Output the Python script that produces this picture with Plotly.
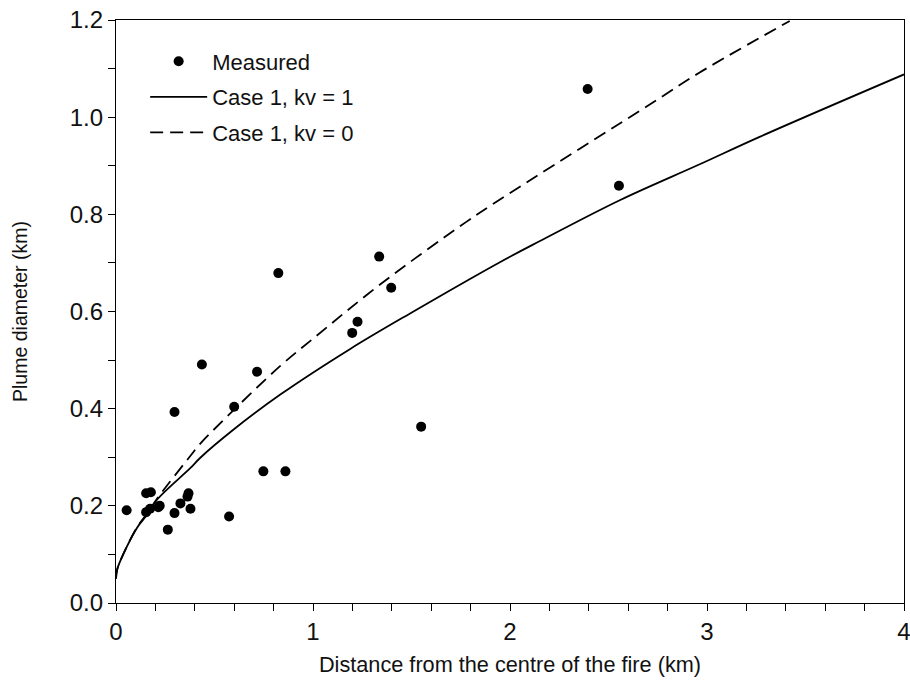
import plotly.graph_objects as go

# Measured plume diameters
measured_x = [0.054, 0.153, 0.173, 0.153, 0.177, 0.215, 0.222, 0.263, 0.297, 0.327,
              0.368, 0.363, 0.378, 0.297, 0.436, 0.574, 0.600, 0.716, 0.748, 0.860,
              0.824, 1.336, 1.199, 1.226, 1.397, 1.549, 2.394, 2.553]
measured_y = [0.191, 0.187, 0.194, 0.226, 0.228, 0.197, 0.200, 0.151, 0.185, 0.205,
              0.226, 0.219, 0.194, 0.393, 0.491, 0.178, 0.404, 0.476, 0.271, 0.271,
              0.679, 0.713, 0.556, 0.579, 0.649, 0.363, 1.058, 0.859]

# Case 1, kv = 1 (solid)
kv1_x = [0.0, 0.006, 0.04, 0.107, 0.158, 0.209, 0.378, 0.428, 0.597, 0.834,
         1.189, 1.51, 1.951, 2.152, 2.557, 2.963, 3.27, 4.0]
kv1_y = [0.05, 0.069, 0.103, 0.155, 0.182, 0.213, 0.278, 0.299, 0.357, 0.429,
         0.523, 0.600, 0.702, 0.745, 0.829, 0.903, 0.960, 1.088]

# Case 1, kv = 0 (dashed)
kv0_x = [0.0, 0.006, 0.04, 0.107, 0.158, 0.209, 0.378, 0.428, 0.597, 0.834,
         1.003, 1.342, 1.78, 1.951, 2.744, 2.963, 3.42]
kv0_y = [0.05, 0.069, 0.103, 0.156, 0.184, 0.215, 0.303, 0.328, 0.397, 0.488,
         0.545, 0.656, 0.785, 0.831, 1.035, 1.092, 1.198]

x_ticks = [0, 1, 2, 3, 4]
y_ticks = [0.0, 0.2, 0.4, 0.6, 0.8, 1.0, 1.2]

FONT = "Liberation Sans, Arial, sans-serif"

fig = go.Figure()
fig.add_trace(go.Scatter(x=measured_x, y=measured_y, mode="markers", name="Measured",
                         legendgroup="a",
                         marker=dict(color="black", size=10)))
fig.add_trace(go.Scatter(x=kv1_x, y=kv1_y, mode="lines", name="Case 1, kv = 1",
                         legendgroup="b",
                         line=dict(color="black", width=1.8, shape="spline", smoothing=1.0)))
fig.add_trace(go.Scatter(x=kv0_x, y=kv0_y, mode="lines", name="Case 1, kv = 0",
                         legendgroup="c",
                         line=dict(color="black", width=1.8, dash="13px,7px",
                                   shape="spline", smoothing=1.0)))

axis_common = dict(showline=True, linecolor="black", linewidth=1.2, mirror=True,
                   ticks="outside", ticklen=7, tickcolor="black", tickwidth=1.2,
                   showgrid=False, zeroline=False, ticklabeloverflow="allow",
                   automargin=False,
                   tickfont=dict(family=FONT, size=24, color="#111"))

fig.update_xaxes(range=[0, 4], tickvals=x_ticks, ticktext=[str(v) for v in x_ticks],
                 minor=dict(ticks="outside", dtick=0.2, ticklen=7, tickcolor="black", tickwidth=1.2),
                 title=dict(text="Distance from the centre of the fire (km)",
                            font=dict(family=FONT, size=21.7, color="#111"), standoff=12),
                 **axis_common)
fig.update_yaxes(range=[0, 1.2], tickvals=y_ticks, ticktext=[f"{v:.1f}" for v in y_ticks],
                 minor=dict(ticks="outside", dtick=0.1, ticklen=7, tickcolor="black", tickwidth=1.2),
                 title=dict(text="Plume diameter (km)",
                            font=dict(family=FONT, size=19.5, color="#111"), standoff=36),
                 **axis_common)

fig.update_layout(
    width=910, height=689,
    margin=dict(l=115.5, r=5.5, t=20, b=85.5),
    paper_bgcolor="white", plot_bgcolor="white",
    showlegend=True,
    legend=dict(x=0.037, y=0.965, xanchor="left", yanchor="top",
                font=dict(family=FONT, size=22, color="#111"),
                bgcolor="rgba(0,0,0,0)", itemwidth=57,
                traceorder="grouped", tracegroupgap=4),
)

fig.write_html("out.html")
